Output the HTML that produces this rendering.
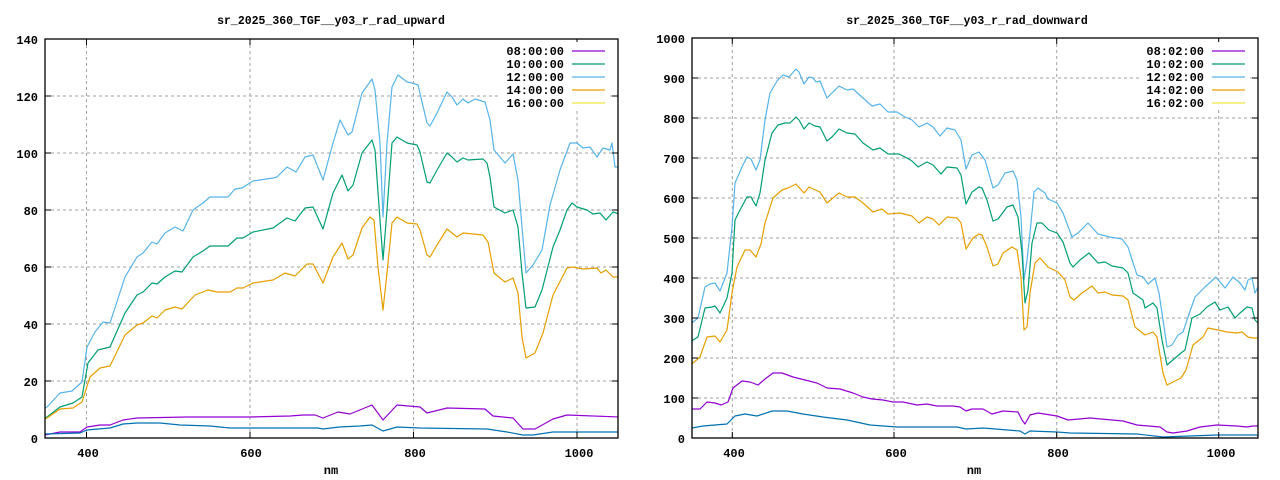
<!DOCTYPE html>
<html><head><meta charset="utf-8"><style>
html,body{margin:0;padding:0;background:#fff;}
svg{display:block;}
text{font-family:"Liberation Mono",monospace;font-weight:bold;font-size:12px;fill:#000;}
.g{stroke:#a0a0a0;stroke-width:1;stroke-dasharray:3,3;fill:none;}
.s{fill:none;stroke-width:1.2;stroke-linejoin:round;}
</style></head><body>
<svg width="1280" height="480" viewBox="0 0 1280 480" xmlns="http://www.w3.org/2000/svg">
<rect width="1280" height="480" fill="#fff"/>
<defs>
<clipPath id="cl"><rect x="45" y="39" width="573" height="399"/></clipPath>
<clipPath id="cr"><rect x="692" y="38" width="566" height="400"/></clipPath>
</defs>

<!-- LEFT PLOT -->
<text x="331" y="24" text-anchor="middle" style="font-size:11.5px">sr_2025_360_TGF__y03_r_rad_upward</text>
<g class="g">
<line x1="45" y1="381" x2="618" y2="381"/><line x1="45" y1="324" x2="618" y2="324"/>
<line x1="45" y1="267" x2="618" y2="267"/><line x1="45" y1="210" x2="618" y2="210"/>
<line x1="45" y1="153" x2="618" y2="153"/><line x1="45" y1="96" x2="618" y2="96"/>
<line x1="86.5" y1="39" x2="86.5" y2="438"/><line x1="250" y1="39" x2="250" y2="438"/>
<line x1="413.5" y1="39" x2="413.5" y2="438"/><line x1="577" y1="39" x2="577" y2="438"/>
</g>
<g text-anchor="end">
<text x="38" y="443">0</text><text x="38" y="386">20</text><text x="38" y="329">40</text>
<text x="38" y="272">60</text><text x="38" y="215">80</text><text x="38" y="158">100</text>
<text x="38" y="101">120</text><text x="38" y="44">140</text>
</g>
<g text-anchor="middle">
<text x="88" y="457">400</text><text x="251" y="457">600</text><text x="415" y="457">800</text><text x="579" y="457">1000</text>
<text x="331" y="474">nm</text>
</g>
<g clip-path="url(#cl)">
<polyline class="s" stroke="#56b4e9" points="45,408 47,407 60,393 72,391 82,382 87,347 95,332 103,322 110,323 125,277 137,257 143,253 152,242 157,244 165,233 175,227 183,231 193,210 203,203 210,197 228,197 235,189 242,188 253,181 273,178 277,177 287,167 296,172 305,157 313,155 323,180 333,143 340,120 348,135 352,132 362,93 372,79 375,90 380,143 383,217 387,143 392,87 398,75 407,82 412,83 418,85 427,123 430,126 437,113 447,92 452,97 457,105 463,99 468,103 475,99 485,102 490,120 494,150 505,163 513,154 518,180 522,227 526,273 533,265 542,250 550,205 560,170 570,143 577,143 583,148 590,147 597,157 603,148 610,150 612,143 615,167 619,167"/>
<polyline class="s" stroke="#009e73" points="45,418 47,417 60,407 73,403 82,397 88,363 98,350 110,347 125,313 137,295 143,292 152,283 157,284 165,277 175,271 182,272 193,257 203,251 210,246 228,246 237,238 243,238 253,232 273,228 287,218 295,221 305,208 313,207 323,229 333,193 342,175 348,191 353,185 362,153 372,140 375,150 380,220 383,260 387,210 392,143 397,137 407,143 417,145 420,152 427,182 430,183 437,170 447,153 452,157 457,162 463,158 468,160 483,159 487,163 490,177 494,207 505,213 513,210 518,227 522,273 526,308 535,307 542,290 553,247 560,230 567,210 572,203 577,207 587,210 593,214 600,213 606,220 613,212 619,214"/>
<polyline class="s" stroke="#e69f00" points="45,419 47,418 60,409 73,408 82,402 90,377 100,368 110,366 125,335 137,325 143,323 152,316 157,318 165,310 175,307 182,309 195,295 208,290 217,292 230,292 237,288 243,288 253,283 273,280 285,273 295,276 307,264 313,264 323,283 333,257 342,243 348,259 353,255 362,228 370,217 374,220 378,267 383,310 387,273 392,223 397,217 407,223 417,224 420,230 427,255 430,257 437,245 447,229 457,237 463,233 483,235 488,242 494,273 505,282 513,278 518,293 522,337 526,358 535,353 543,333 553,295 567,268 573,267 583,269 597,268 601,273 606,270 613,277 619,277"/>
<polyline class="s" stroke="#9400d3" points="45,435 60,432 80,432 87,427 100,425 110,425 123,420 137,418 187,417 250,417 290,416 303,415 315,415 323,418 338,412 350,414 372,405 383,420 397,405 420,407 427,413 447,408 485,409 493,416 513,418 523,429 535,429 553,419 567,415 619,417"/>
<polyline class="s" stroke="#0072b2" points="45,434 80,433 87,430 110,428 123,424 137,423 160,423 180,425 210,426 230,428 243,428 307,428 318,428 323,429 339,427 360,426 372,425 383,431 397,427 420,428 487,429 507,432 523,435 533,435 553,432 619,432"/>
</g>
<rect x="45" y="39" width="573" height="399" fill="none" stroke="#000" stroke-width="1.3"/>
<g stroke="#000" stroke-width="1">
<line x1="45" y1="381" x2="51" y2="381"/><line x1="45" y1="324" x2="51" y2="324"/><line x1="45" y1="267" x2="51" y2="267"/><line x1="45" y1="210" x2="51" y2="210"/><line x1="45" y1="153" x2="51" y2="153"/><line x1="45" y1="96" x2="51" y2="96"/>
<line x1="612" y1="381" x2="618" y2="381"/><line x1="612" y1="324" x2="618" y2="324"/><line x1="612" y1="267" x2="618" y2="267"/><line x1="612" y1="210" x2="618" y2="210"/><line x1="612" y1="153" x2="618" y2="153"/><line x1="612" y1="96" x2="618" y2="96"/>
<line x1="86.5" y1="438" x2="86.5" y2="432"/><line x1="250" y1="438" x2="250" y2="432"/><line x1="413.5" y1="438" x2="413.5" y2="432"/><line x1="577" y1="438" x2="577" y2="432"/>
<line x1="86.5" y1="39" x2="86.5" y2="45"/><line x1="250" y1="39" x2="250" y2="45"/><line x1="413.5" y1="39" x2="413.5" y2="45"/><line x1="577" y1="39" x2="577" y2="45"/>
</g>
<rect x="500" y="42" width="110" height="66" fill="#fff"/>
<g text-anchor="end">
<text x="564" y="55">08:00:00</text><text x="564" y="68">10:00:00</text><text x="564" y="81">12:00:00</text><text x="564" y="94">14:00:00</text><text x="564" y="107">16:00:00</text>
</g>
<g stroke-width="1.2">
<line x1="572" y1="51" x2="605" y2="51" stroke="#9400d3"/><line x1="572" y1="64" x2="605" y2="64" stroke="#009e73"/><line x1="572" y1="77" x2="605" y2="77" stroke="#56b4e9"/><line x1="572" y1="90" x2="605" y2="90" stroke="#e69f00"/><line x1="572" y1="103" x2="605" y2="103" stroke="#f0e442"/>
</g>

<!-- RIGHT PLOT -->
<text x="967" y="24" text-anchor="middle" style="font-size:11.5px">sr_2025_360_TGF__y03_r_rad_downward</text>
<g class="g">
<line x1="692" y1="398" x2="1258" y2="398"/><line x1="692" y1="358" x2="1258" y2="358"/><line x1="692" y1="318" x2="1258" y2="318"/><line x1="692" y1="278" x2="1258" y2="278"/><line x1="692" y1="238" x2="1258" y2="238"/><line x1="692" y1="198" x2="1258" y2="198"/><line x1="692" y1="158" x2="1258" y2="158"/><line x1="692" y1="118" x2="1258" y2="118"/><line x1="692" y1="78" x2="1258" y2="78"/>
<line x1="732.3" y1="38" x2="732.3" y2="438"/><line x1="894" y1="38" x2="894" y2="438"/><line x1="1056.7" y1="38" x2="1056.7" y2="438"/><line x1="1218.7" y1="38" x2="1218.7" y2="438"/>
</g>
<g text-anchor="end">
<text x="685" y="443">0</text><text x="685" y="403">100</text><text x="685" y="363">200</text><text x="685" y="323">300</text><text x="685" y="283">400</text><text x="685" y="243">500</text><text x="685" y="203">600</text><text x="685" y="163">700</text><text x="685" y="123">800</text><text x="685" y="83">900</text><text x="685" y="43">1000</text>
</g>
<g text-anchor="middle">
<text x="734" y="457">400</text><text x="896" y="457">600</text><text x="1058" y="457">800</text><text x="1221" y="457">1000</text>
<text x="974" y="474">nm</text>
</g>
<g clip-path="url(#cr)">
<polyline class="s" stroke="#56b4e9" points="692,323 693,322 698,318 705,287 710,284 715,283 720,291 727,273 732,227 735,183 742,167 747,157 751,159 756,170 760,160 765,120 770,93 777,81 783,75 789,77 796,69 799,72 804,84 809,77 813,78 816,82 820,81 827,98 832,93 839,86 847,90 853,89 863,98 872,106 880,104 888,112 897,112 905,117 912,120 919,127 927,123 933,127 940,136 947,128 955,130 961,140 966,169 972,155 979,152 985,160 993,188 998,185 1005,173 1013,171 1017,180 1021,217 1024,280 1027,260 1030,233 1034,192 1038,188 1045,193 1048,199 1057,203 1063,213 1072,237 1078,233 1088,223 1098,234 1110,237 1122,239 1128,247 1137,275 1143,277 1148,284 1155,278 1159,293 1167,347 1172,345 1178,335 1183,332 1188,317 1195,297 1205,287 1216,277 1220,282 1225,288 1233,277 1240,283 1245,290 1248,280 1252,278 1255,293 1258,287"/>
<polyline class="s" stroke="#009e73" points="692,341 693,340 698,337 705,308 712,307 715,306 720,313 727,298 732,273 735,220 740,210 747,197 751,197 756,206 760,193 765,160 772,133 778,125 785,123 790,123 796,117 799,120 804,129 809,123 815,126 820,127 827,141 832,137 839,129 847,133 855,134 863,143 873,150 880,148 888,154 899,154 907,158 912,161 918,167 927,162 933,165 941,174 947,167 957,168 961,175 966,204 972,192 979,187 982,188 987,200 993,221 998,219 1007,207 1013,205 1018,217 1022,253 1025,303 1028,290 1032,243 1037,223 1042,223 1049,230 1057,233 1063,242 1070,263 1073,267 1080,260 1089,253 1098,263 1105,262 1112,266 1123,268 1128,273 1133,293 1143,300 1145,308 1153,303 1157,308 1162,340 1167,365 1174,359 1181,353 1185,350 1192,318 1200,314 1207,307 1215,302 1220,310 1228,307 1235,318 1240,313 1247,307 1252,308 1255,320 1258,323"/>
<polyline class="s" stroke="#e69f00" points="692,364 693,363 700,357 707,337 715,336 720,342 727,330 732,293 737,267 745,250 750,250 756,257 761,244 765,223 773,198 782,190 788,188 796,184 804,193 809,187 820,192 827,203 839,193 847,197 855,197 863,203 873,212 882,209 888,214 900,213 912,216 919,223 927,217 933,219 939,225 947,217 957,218 961,223 966,249 973,238 979,234 982,235 987,247 993,266 998,264 1003,253 1012,247 1017,250 1021,277 1024,330 1027,327 1030,293 1035,263 1040,258 1048,267 1058,272 1065,280 1070,297 1074,300 1082,293 1092,286 1098,293 1105,292 1112,295 1123,296 1128,300 1135,327 1145,335 1153,332 1157,337 1163,373 1167,385 1173,382 1181,378 1186,370 1193,345 1203,337 1208,328 1218,330 1227,332 1237,333 1242,332 1248,337 1253,338 1258,338"/>
<polyline class="s" stroke="#9400d3" points="692,409 700,409 707,402 715,403 721,405 728,402 733,388 742,381 750,382 758,385 765,379 773,373 782,373 793,377 805,380 817,383 827,388 840,389 853,393 863,397 872,399 883,400 893,402 903,402 917,405 927,404 937,406 953,406 960,407 966,411 972,409 983,409 992,414 1003,411 1018,412 1022,420 1025,424 1030,415 1038,413 1057,416 1068,420 1090,418 1123,421 1137,425 1160,427 1167,432 1173,433 1187,431 1200,427 1217,425 1237,426 1247,427 1253,426 1258,426"/>
<polyline class="s" stroke="#0072b2" points="692,428 703,426 727,424 735,416 745,414 757,416 772,411 787,411 803,414 823,417 847,420 870,425 897,427 903,427 957,427 966,429 983,428 1020,431 1025,434 1030,431 1057,432 1070,433 1137,434 1163,437 1190,436 1217,435 1258,435"/>
</g>
<rect x="692" y="38" width="566" height="400" fill="none" stroke="#000" stroke-width="1.3"/>
<g stroke="#000" stroke-width="1">
<line x1="692" y1="398" x2="698" y2="398"/><line x1="692" y1="358" x2="698" y2="358"/><line x1="692" y1="318" x2="698" y2="318"/><line x1="692" y1="278" x2="698" y2="278"/><line x1="692" y1="238" x2="698" y2="238"/><line x1="692" y1="198" x2="698" y2="198"/><line x1="692" y1="158" x2="698" y2="158"/><line x1="692" y1="118" x2="698" y2="118"/><line x1="692" y1="78" x2="698" y2="78"/>
<line x1="1252" y1="398" x2="1258" y2="398"/><line x1="1252" y1="358" x2="1258" y2="358"/><line x1="1252" y1="318" x2="1258" y2="318"/><line x1="1252" y1="278" x2="1258" y2="278"/><line x1="1252" y1="238" x2="1258" y2="238"/><line x1="1252" y1="198" x2="1258" y2="198"/><line x1="1252" y1="158" x2="1258" y2="158"/><line x1="1252" y1="118" x2="1258" y2="118"/><line x1="1252" y1="78" x2="1258" y2="78"/>
<line x1="732.3" y1="438" x2="732.3" y2="432"/><line x1="894" y1="438" x2="894" y2="432"/><line x1="1056.7" y1="438" x2="1056.7" y2="432"/><line x1="1218.7" y1="438" x2="1218.7" y2="432"/>
<line x1="732.3" y1="38" x2="732.3" y2="44"/><line x1="894" y1="38" x2="894" y2="44"/><line x1="1056.7" y1="38" x2="1056.7" y2="44"/><line x1="1218.7" y1="38" x2="1218.7" y2="44"/>
</g>
<rect x="1140" y="42" width="110" height="66" fill="#fff"/>
<g text-anchor="end">
<text x="1204" y="55">08:02:00</text><text x="1204" y="68">10:02:00</text><text x="1204" y="81">12:02:00</text><text x="1204" y="94">14:02:00</text><text x="1204" y="107">16:02:00</text>
</g>
<g stroke-width="1.2">
<line x1="1212" y1="51" x2="1245" y2="51" stroke="#9400d3"/><line x1="1212" y1="64" x2="1245" y2="64" stroke="#009e73"/><line x1="1212" y1="77" x2="1245" y2="77" stroke="#56b4e9"/><line x1="1212" y1="90" x2="1245" y2="90" stroke="#e69f00"/><line x1="1212" y1="103" x2="1245" y2="103" stroke="#f0e442"/>
</g>
</svg>
</body></html>
